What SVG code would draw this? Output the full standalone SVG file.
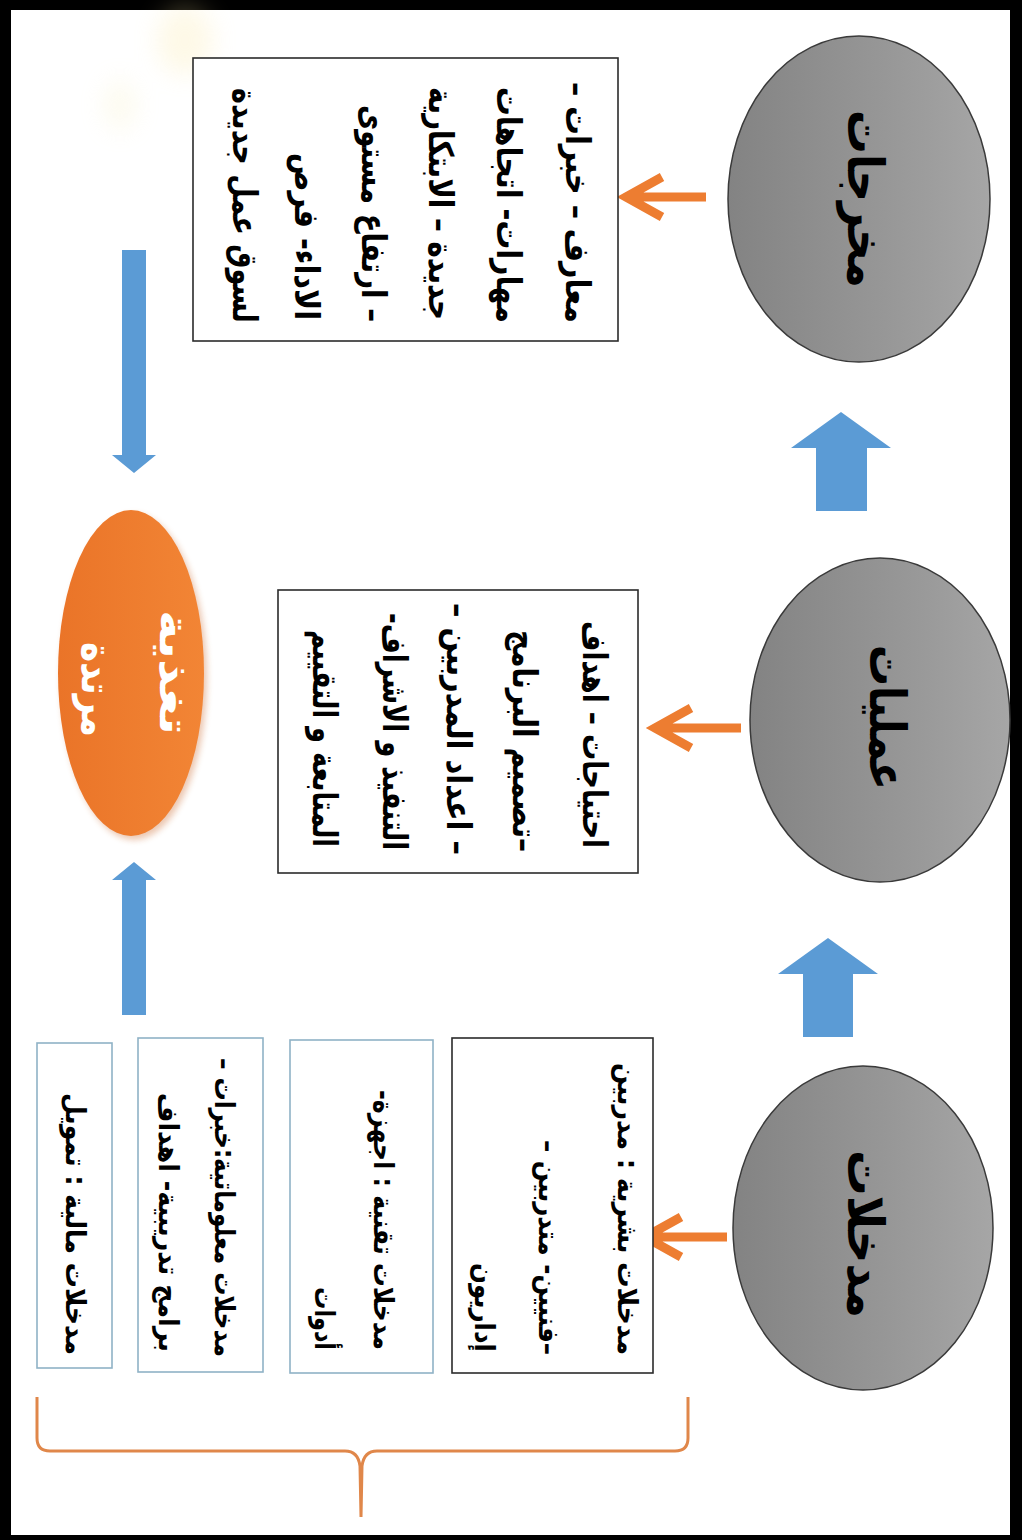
<svg xmlns="http://www.w3.org/2000/svg" width="1022" height="1540" viewBox="0 0 1022 1540">
<defs>
<linearGradient id="gray" x1="0" y1="0" x2="1" y2="0">
<stop offset="0" stop-color="#838383"/>
<stop offset="0.6" stop-color="#979797"/>
<stop offset="1" stop-color="#a6a6a6"/>
</linearGradient>
<linearGradient id="orng" x1="0" y1="0" x2="1" y2="0">
<stop offset="0" stop-color="#ea7428"/>
<stop offset="1" stop-color="#f28535"/>
</linearGradient>
<filter id="blur" x="-50%" y="-50%" width="200%" height="200%"><feGaussianBlur stdDeviation="12"/></filter>
<filter id="shadow" x="-20%" y="-20%" width="140%" height="140%"><feGaussianBlur stdDeviation="3"/></filter>
</defs>
<style>
.t{font-family:"DejaVu Sans",sans-serif;font-weight:bold;direction:rtl;text-anchor:start;fill:#000;}
.big{font-size:50px;}
.mid{font-size:34px;}
.sm{font-size:28px;}
.wt{fill:#fff;font-size:42px;}
.box{fill:#fff;stroke:#2b2b2b;stroke-width:1.6;}
.lbox{fill:#fff;stroke:#8fb2c6;stroke-width:1.6;}
.node{fill:url(#gray);stroke:#3a3a3a;stroke-width:1.5;}
.oarr{fill:none;stroke:#ed7d31;stroke-width:9;}
.barr{fill:#5b9bd5;}
.brace{fill:none;stroke:#e0874a;stroke-width:3;}
</style>
<rect x="0" y="0" width="1022" height="1540" fill="#000"/>
<rect x="11" y="10" width="999" height="1525" fill="#fff"/>
<g opacity="0.25" filter="url(#blur)">
<ellipse cx="185" cy="40" rx="28" ry="35" fill="#fbe7a0"/>
<ellipse cx="120" cy="105" rx="16" ry="26" fill="#f6efc0"/>
</g>

<g id="connectors">
<path class="oarr" d="M706 197 H626 M662 177 L626 197 L662 217"/>
<path class="oarr" d="M741 728 H655 M691 708 L655 728 L691 748"/>
<path class="oarr" d="M727 1237 H645 M681 1217 L645 1237 L681 1257"/>
<polygon class="barr" points="841,412 891,448 867,448 867,511 816,511 816,448 791,448"/>
<polygon class="barr" points="828,938 878,974 853,974 853,1037 803,1037 803,974 778,974"/>
<polygon class="barr" points="122,250 146,250 146,455 156,455 134,473 112,455 122,455"/>
<polygon class="barr" points="122,1015 146,1015 146,880 156,880 134,862 112,880 122,880"/>
<path class="brace" d="M37 1397 V1438 Q37 1451 50 1451 H345 Q358 1451 360 1466 L361 1517 M361 1517 L362 1466 Q364 1451 377 1451 H675 Q688 1451 688 1438 V1397"/>
</g>

<g id="node-outputs">
<ellipse class="node" cx="859" cy="199" rx="131" ry="163"/>
<text class="t big" transform="translate(848,288) rotate(90)" textLength="178" lengthAdjust="spacingAndGlyphs">مخرجات</text>
</g>
<g id="node-processes">
<ellipse class="node" cx="880" cy="720" rx="130" ry="162"/>
<text class="t big" transform="translate(870,790) rotate(90)" textLength="145" lengthAdjust="spacingAndGlyphs">عمليات</text>
</g>
<g id="node-inputs">
<ellipse class="node" cx="863" cy="1228" rx="130" ry="162"/>
<text class="t big" transform="translate(848,1318) rotate(90)" textLength="168" lengthAdjust="spacingAndGlyphs">مدخلات</text>
</g>

<g id="node-feedback">
<ellipse cx="134" cy="677" rx="73" ry="163" fill="#c86020" opacity="0.35" filter="url(#shadow)"/>
<ellipse cx="131" cy="673" rx="73" ry="163" fill="url(#orng)"/>
<text class="t wt" transform="translate(160,735) rotate(90)" textLength="125" lengthAdjust="spacingAndGlyphs">تغذية</text>
<text class="t wt" transform="translate(82,737) rotate(90)" textLength="95" lengthAdjust="spacingAndGlyphs">مرتدة</text>
</g>

<g id="box-outputs">
<rect class="box" x="193" y="58" width="425" height="283"/>
<text class="t mid" transform="translate(566,323) rotate(90)" textLength="241" lengthAdjust="spacingAndGlyphs">معارف – خبرات –</text>
<text class="t mid" transform="translate(497,323) rotate(90)" textLength="236" lengthAdjust="spacingAndGlyphs">مهارات- اتجاهات</text>
<text class="t mid" transform="translate(429,320) rotate(90)" textLength="233" lengthAdjust="spacingAndGlyphs">جديدة – الابتكارية</text>
<text class="t mid" transform="translate(362,322) rotate(90)" textLength="217" lengthAdjust="spacingAndGlyphs">– ارتفاع مستوى</text>
<text class="t mid" transform="translate(295,320) rotate(90)" textLength="167" lengthAdjust="spacingAndGlyphs">الاداء- فرص</text>
<text class="t mid" transform="translate(233,323) rotate(90)" textLength="235" lengthAdjust="spacingAndGlyphs">لسوق عمل جديدة</text>
</g>

<g id="box-processes">
<rect class="box" x="278" y="590" width="360" height="283"/>
<text class="t mid" transform="translate(583,848) rotate(90)" textLength="227" lengthAdjust="spacingAndGlyphs">احتياجات – اهداف</text>
<text class="t mid" transform="translate(513,852) rotate(90)" textLength="222" lengthAdjust="spacingAndGlyphs">–تصميم البرنامج</text>
<text class="t mid" transform="translate(447,855) rotate(90)" textLength="252" lengthAdjust="spacingAndGlyphs">– اعداد المدربين –</text>
<text class="t mid" transform="translate(383,850) rotate(90)" textLength="237" lengthAdjust="spacingAndGlyphs">التنفيذ و الاشراف-</text>
<text class="t mid" transform="translate(313,847) rotate(90)" textLength="217" lengthAdjust="spacingAndGlyphs">المتابعة و التقييم</text>
</g>

<g id="box-human">
<rect class="box" x="452" y="1038" width="201" height="335"/>
<text class="t sm" transform="translate(618,1355) rotate(90)" textLength="292" lengthAdjust="spacingAndGlyphs">مدخلات بشرية : مدربين</text>
<text class="t sm" transform="translate(539,1355) rotate(90)" textLength="215" lengthAdjust="spacingAndGlyphs">–فنيين- متدربين –</text>
<text class="t sm" transform="translate(475,1352) rotate(90)" textLength="89" lengthAdjust="spacingAndGlyphs">إداريون</text>
</g>
<g id="box-technical">
<rect class="lbox" x="290" y="1040" width="143" height="333"/>
<text class="t sm" transform="translate(374,1350) rotate(90)" textLength="260" lengthAdjust="spacingAndGlyphs">مدخلات تقنية : اجهزة-</text>
<text class="t sm" transform="translate(315,1350) rotate(90)" textLength="63" lengthAdjust="spacingAndGlyphs">أدوات</text>
</g>
<g id="box-information">
<rect class="lbox" x="138" y="1038" width="125" height="334"/>
<text class="t sm" transform="translate(215,1357) rotate(90)" textLength="299" lengthAdjust="spacingAndGlyphs">مدخلات معلوماتية:خبرات –</text>
<text class="t sm" transform="translate(159,1352) rotate(90)" textLength="259" lengthAdjust="spacingAndGlyphs">برامج تدريبية- اهداف</text>
</g>
<g id="box-financial">
<rect class="lbox" x="37" y="1043" width="75" height="325"/>
<text class="t sm" transform="translate(66,1355) rotate(90)" textLength="262" lengthAdjust="spacingAndGlyphs">مدخلات مالية : تمويل</text>
</g>
</svg>
